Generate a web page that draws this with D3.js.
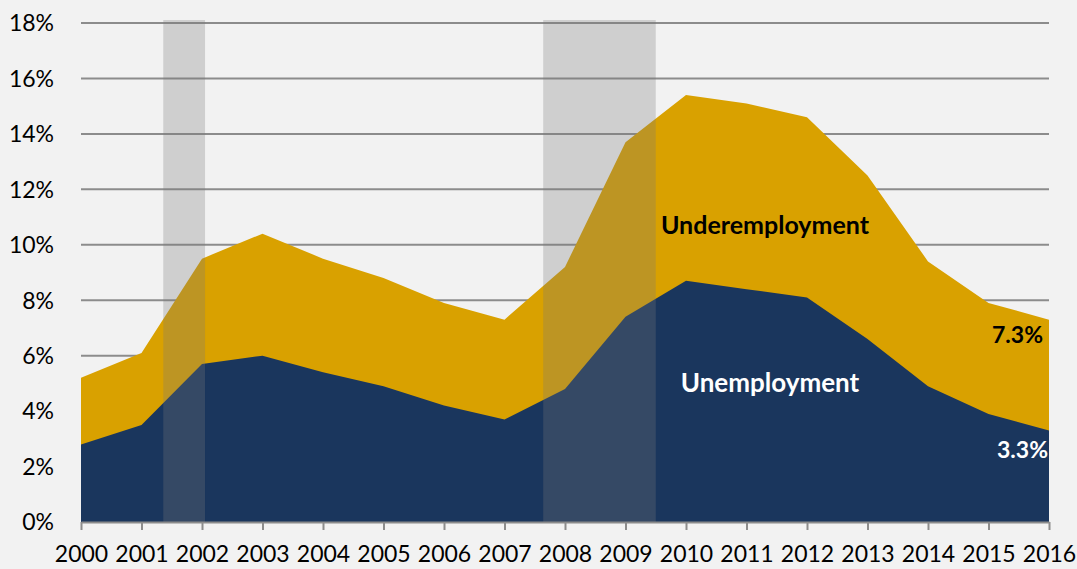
<!DOCTYPE html>
<html>
<head>
<meta charset="utf-8">
<script src="https://cdn.jsdelivr.net/npm/d3@7"></script>
<style>
  html, body { margin: 0; padding: 0; background: #f2f2f2; }
  svg { display: block; }
  text { font-family: Lato, "Open Sans", sans-serif; }
</style>
</head>
<body>
<svg id="chart" width="1077" height="569"></svg>
<script>
const years = [2000, 2001, 2002, 2003, 2004, 2005, 2006, 2007, 2008, 2009, 2010, 2011, 2012, 2013, 2014, 2015, 2016];
const underemployment = [5.2, 6.1, 9.5, 10.4, 9.5, 8.8, 7.9, 7.3, 9.2, 13.7, 15.4, 15.1, 14.6, 12.5, 9.4, 7.9, 7.3];
const unemployment = [2.8, 3.5, 5.7, 6.0, 5.4, 4.9, 4.2, 3.7, 4.8, 7.4, 8.7, 8.4, 8.1, 6.6, 4.9, 3.9, 3.3];
const yTicks = [0, 2, 4, 6, 8, 10, 12, 14, 16, 18];
const recessionStart = [2001.36, 2007.64];
const recessionEnd = [2002.05, 2009.5];

const svg = d3.select("#chart");
const m = { left: 81, right: 28, top: 23, bottom: 47 };
const W = 1077, H = 569;

const x = d3.scaleLinear().domain([2000, 2016]).range([m.left, W - m.right]);
const y = d3.scaleLinear().domain([0, 18]).range([H - m.bottom, m.top]);

// gridlines
svg.append("g").selectAll("line").data(yTicks.filter(d => d > 0)).join("line")
  .attr("x1", x(2000)).attr("x2", x(2016))
  .attr("y1", d => y(d)).attr("y2", d => y(d))
  .attr("stroke", "#8c8c8c").attr("stroke-width", 2);

// y labels
svg.append("g").selectAll("text").data(yTicks).join("text")
  .attr("x", 54).attr("y", d => y(d))
  .attr("dy", "0.36em")
  .attr("text-anchor", "end")
  .attr("font-size", 23)
  .attr("fill", "#000")
  .text(d => d + "%");

// areas
const areaU = d3.area().x((d, i) => x(years[i])).y0(y(0)).y1(d => y(d));
svg.append("path").datum(underemployment).attr("d", areaU).attr("fill", "#d9a100");
svg.append("path").datum(unemployment).attr("d", areaU).attr("fill", "#1a365d");

// recession bands
svg.append("g").selectAll("rect").data(recessionStart).join("rect")
  .attr("x", d => x(d))
  .attr("width", (d, i) => x(recessionEnd[i]) - x(d))
  .attr("y", y(18) - 3)
  .attr("height", y(0) - y(18) + 3)
  .attr("fill", "rgb(121,121,121)")
  .attr("fill-opacity", 0.29);

// x axis
const xAxis = d3.axisBottom(x).tickValues(years).tickFormat(d3.format("d")).tickSize(8).tickSizeOuter(0);
const gx = svg.append("g").attr("transform", `translate(0,${y(0)})`).call(xAxis);
gx.select(".domain").attr("stroke", "#8c8c8c").attr("stroke-width", 2);
gx.selectAll(".tick line").attr("stroke", "#8c8c8c").attr("stroke-width", 2);
gx.selectAll(".tick text").attr("font-size", 23).attr("fill", "#000")
  .attr("font-family", "Lato, sans-serif").attr("y", 24).attr("dy", "0.71em");

// annotations
svg.append("text").attr("x", 765).attr("y", 234).attr("text-anchor", "middle")
  .attr("font-size", 25).attr("font-weight", "bold").attr("fill", "#000").text("Underemployment");
svg.append("text").attr("x", 770).attr("y", 392).attr("text-anchor", "middle")
  .attr("font-size", 26).attr("font-weight", "bold").attr("fill", "#fff").text("Unemployment");
svg.append("text").attr("x", 1043).attr("y", 343).attr("text-anchor", "end")
  .attr("font-size", 23).attr("font-weight", "bold").attr("fill", "#000")
  .text(underemployment[underemployment.length - 1].toFixed(1) + "%");
svg.append("text").attr("x", 1048).attr("y", 458).attr("text-anchor", "end")
  .attr("font-size", 23).attr("font-weight", "bold").attr("fill", "#fff")
  .text(unemployment[unemployment.length - 1].toFixed(1) + "%");
</script>
</body>
</html>
